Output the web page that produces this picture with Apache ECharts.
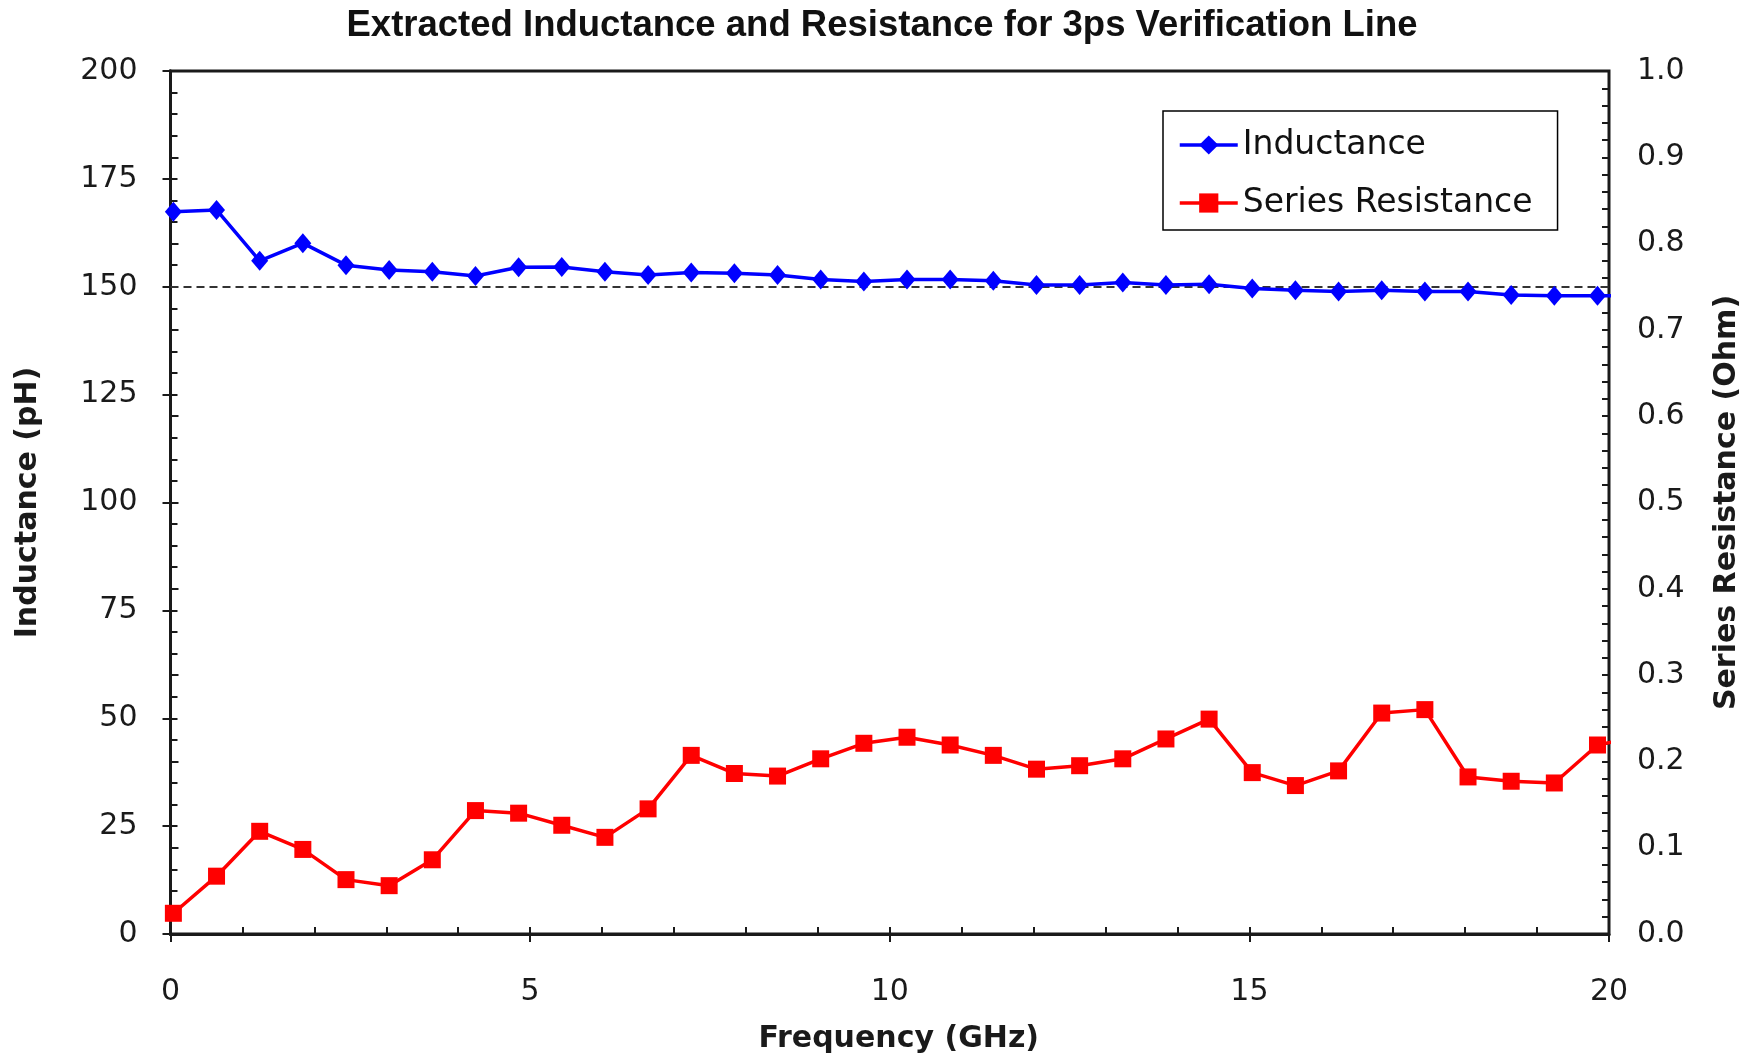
<!DOCTYPE html>
<html>
<head>
<meta charset="utf-8">
<script src="https://cdn.jsdelivr.net/npm/echarts@6/dist/echarts.min.js"></script>
<style>
html,body{margin:0;padding:0;background:#fff;}
#chart{width:1764px;height:1058px;}
</style>
</head>
<body>
<div id="chart"></div>
<script>
// Frequencies (GHz)
var freqGHz = [0.04, 0.64, 1.24, 1.84, 2.44, 3.04, 3.64, 4.24, 4.84, 5.44,
  6.04, 6.64, 7.24, 7.84, 8.44, 9.04, 9.64, 10.24, 10.84, 11.44,
  12.04, 12.64, 13.24, 13.84, 14.44, 15.04, 15.64, 16.24, 16.84, 17.44,
  18.04, 18.64, 19.24, 19.84, 20.44];
// Inductance (pH)
var inductance = [167.4, 167.8, 156.0, 160.1, 155.0, 153.9, 153.5, 152.5, 154.5, 154.6,
  153.5, 152.7, 153.3, 153.1, 152.7, 151.7, 151.2, 151.7, 151.7, 151.4,
  150.4, 150.4, 151.0, 150.4, 150.6, 149.6, 149.2, 148.9, 149.2, 148.9,
  148.9, 148.1, 147.9, 147.9, 147.9];
// Series resistance (Ohm)
var resistance = [0.024, 0.067, 0.119, 0.098, 0.063, 0.056, 0.086, 0.143, 0.140, 0.126,
  0.112, 0.145, 0.207, 0.186, 0.183, 0.203, 0.221, 0.228, 0.219, 0.207,
  0.191, 0.195, 0.203, 0.226, 0.249, 0.187, 0.172, 0.189, 0.256, 0.260,
  0.182, 0.177, 0.175, 0.219, 0.229];
var referenceInductance = 150;

var seriesNames = ['Inductance', 'Series Resistance'];
var titleText = 'Extracted Inductance and Resistance for 3ps Verification Line';
var xName = 'Frequency (GHz)';
var yLeftName = 'Inductance (pH)';
var yRightName = 'Series Resistance (Ohm)';

function pairs(xs, ys) {
  var out = [];
  for (var i = 0; i < xs.length; i++) out.push([xs[i], ys[i]]);
  return out;
}

var axisColor = '#1a1a1a';
var textColor = '#1a1a1a';
var tickFont = { fontFamily: 'DejaVu Sans', fontSize: 30, color: textColor };
var nameFont = { fontFamily: 'DejaVu Sans', fontWeight: 'bold', fontSize: 30, color: textColor };

var chart = echarts.init(document.getElementById('chart'), null, { renderer: 'canvas' });
chart.setOption({
  backgroundColor: '#ffffff',
  animation: false,
  title: {
    text: titleText,
    left: 'center',
    top: 7,
    padding: [0, 0, 0, 0],
    textStyle: { fontFamily: 'Liberation Sans', fontWeight: 'bold', fontSize: 36.5, color: '#111' }
  },
  legend: {
    orient: 'vertical',
    left: 1163,
    top: 111,
    padding: [16, 25, 9, 15],
    itemGap: 22,
    itemWidth: 58,
    itemHeight: 24,
    borderColor: '#000',
    borderWidth: 1.5,
    backgroundColor: '#fff',
    data: seriesNames,
    lineStyle: { width: 3.5 },
    textStyle: { fontFamily: 'DejaVu Sans', fontSize: 33, color: '#111', lineHeight: 36 }
  },
  grid: {
    left: 170.5,
    right: 155,
    top: 71,
    bottom: 124,
    show: true,
    borderColor: axisColor,
    borderWidth: 3,
    backgroundColor: '#fff',
    containLabel: false,
    outerBoundsMode: 'none'
  },
  xAxis: [
    {
      type: 'value', min: 0, max: 20, interval: 5, position: 'bottom',
      name: xName, nameLocation: 'middle', nameGap: 90,
      nameTextStyle: Object.assign({ padding: [0, 0, 0, 18] }, nameFont),
      axisLine: { show: true, lineStyle: { color: axisColor, width: 3 } },
      axisTick: { show: true, inside: false, length: 8, lineStyle: { color: axisColor, width: 2 } },
      axisLabel: Object.assign({ margin: 43 }, tickFont),
      splitLine: { show: false }
    },
    {
      type: 'value', min: 0, max: 20, interval: 5, position: 'bottom',
      axisLine: { show: false },
      axisTick: { show: true, inside: true, length: 7, lineStyle: { color: axisColor, width: 2 } },
      minorTick: { show: true, splitNumber: 5, length: 7, lineStyle: { color: axisColor, width: 2 } },
      axisLabel: { show: false },
      splitLine: { show: false }
    }
  ],
  yAxis: [
    {
      type: 'value', min: 0, max: 200, interval: 25, position: 'left',
      name: yLeftName, nameLocation: 'middle', nameGap: 127, nameRotate: 90,
      nameTextStyle: nameFont,
      axisLine: { show: true, lineStyle: { color: axisColor, width: 3 } },
      axisTick: { show: true, inside: false, length: 8, lineStyle: { color: axisColor, width: 2 } },
      axisLabel: Object.assign({ margin: 33 }, tickFont),
      splitLine: { show: false }
    },
    {
      type: 'value', min: 0, max: 1, interval: 0.1, position: 'right',
      name: yRightName, nameLocation: 'middle', nameGap: 103, nameRotate: 90,
      nameTextStyle: nameFont,
      axisLine: { show: true, lineStyle: { color: axisColor, width: 3 } },
      axisTick: { show: true, inside: false, length: 8, lineStyle: { color: axisColor, width: 2 } },
      axisLabel: Object.assign({ margin: 28, formatter: function (v) { return v.toFixed(1); } }, tickFont),
      splitLine: { show: false }
    },
    {
      type: 'value', min: 0, max: 200, interval: 25, position: 'left',
      axisLine: { show: false },
      axisTick: { show: true, inside: true, length: 7, lineStyle: { color: axisColor, width: 2 } },
      minorTick: { show: true, splitNumber: 5, length: 7, lineStyle: { color: axisColor, width: 2 } },
      axisLabel: { show: false },
      splitLine: { show: false }
    },
    {
      type: 'value', min: 0, max: 1, interval: 0.1, position: 'right',
      axisLine: { show: false },
      axisTick: { show: true, inside: true, length: 7, lineStyle: { color: axisColor, width: 2 } },
      minorTick: { show: true, splitNumber: 5, length: 7, lineStyle: { color: axisColor, width: 2 } },
      axisLabel: { show: false },
      splitLine: { show: false }
    }
  ],
  series: [
    {
      name: seriesNames[0],
      type: 'line',
      xAxisIndex: 0,
      yAxisIndex: 0,
      data: pairs(freqGHz, inductance),
      clip: true,
      symbol: 'diamond',
      symbolSize: [17, 20],
      showAllSymbol: true,
      lineStyle: { color: '#0000ff', width: 3.5 },
      itemStyle: { color: '#0000ff' },
      z: 3,
      markLine: {
        silent: true,
        symbol: 'none',
        label: { show: false },
        lineStyle: { color: '#333', width: 1.8, type: [8, 5] },
        data: [{ yAxis: referenceInductance }],
        z: 2
      }
    },
    {
      name: seriesNames[1],
      type: 'line',
      xAxisIndex: 0,
      yAxisIndex: 1,
      data: pairs(freqGHz, resistance),
      clip: true,
      symbol: 'rect',
      symbolSize: 17,
      showAllSymbol: true,
      lineStyle: { color: '#ff0000', width: 3.5 },
      itemStyle: { color: '#ff0000' },
      z: 3
    }
  ]
});
</script>
</body>
</html>
